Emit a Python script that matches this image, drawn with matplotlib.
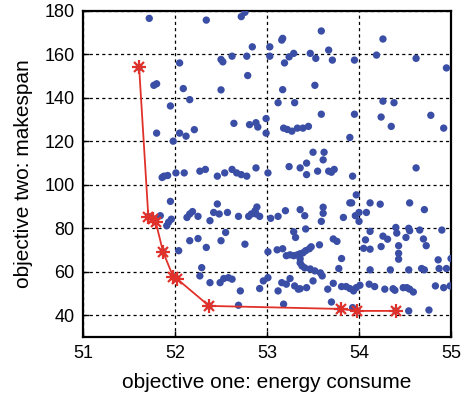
import matplotlib
matplotlib.use("Agg")
import matplotlib.pyplot as plt

plt.rcParams['font.family'] = ['Liberation Sans', 'DejaVu Sans']

# All evaluated schedules: (energy consume, makespan)
energy = [
    51.72, 51.77, 51.80, 52.09, 52.34, 52.72, 52.76, 52.84, 53.03, 53.16,
    53.17, 52.05, 52.50, 52.52, 52.62, 52.78, 53.03, 53.19, 53.24, 53.29,
    53.47, 52.79, 52.50, 53.17, 53.52, 53.59, 54.26, 53.53, 53.67, 53.71,
    53.95, 54.19, 54.62, 54.95,
    51.95, 52.16, 53.12, 53.30, 53.59, 53.95, 54.26, 54.38, 54.24, 54.78,
    54.92, 54.35, 53.90, 51.80, 52.05, 52.12, 52.21, 51.98, 52.64, 52.81,
    52.88, 52.90, 52.99, 52.99, 53.18, 53.22, 53.27, 53.33, 53.39, 53.45,
    53.50, 53.62, 53.61, 53.43, 53.24, 53.36, 53.55, 53.43, 53.67, 53.70,
    53.73, 53.93, 54.62, 52.88, 53.01, 52.78, 52.67, 52.62, 52.72, 52.54,
    52.46, 52.33, 52.27, 52.10, 52.01, 51.92, 51.88, 51.86,
    51.95, 52.46, 52.89, 53.61, 53.90, 53.92, 53.97, 54.12, 54.23, 54.55,
    54.71, 53.36, 53.41, 53.61, 53.59, 53.83, 53.96, 54.00, 54.00, 54.08,
    53.42, 54.12, 54.40, 54.41, 54.54, 54.55, 54.51, 54.66, 54.90, 53.72,
    53.76, 53.57, 54.07, 54.05, 54.12, 54.26, 54.31, 54.70, 54.73, 54.24,
    54.43, 54.43, 54.43, 53.81, 54.86, 55.00,
    53.01, 53.11, 53.17, 53.21, 53.25, 53.29, 53.33, 53.36, 53.39, 53.42,
    53.46, 53.48, 53.36, 53.36, 53.38, 53.41, 53.47, 53.52, 53.58, 53.60,
    53.78, 54.12, 54.34, 54.54, 54.68, 54.71, 54.87, 54.95,
    53.43, 53.36, 53.50, 53.66, 53.72, 53.81, 53.86, 53.90, 53.94, 53.97,
    54.01, 54.11, 54.17, 54.28, 54.37, 54.39, 54.48, 54.52, 54.55, 54.59,
    54.83, 54.92, 54.99, 53.70, 53.93, 54.54, 54.76,
    51.84, 51.96, 51.93, 51.91, 52.16, 52.19, 52.13, 52.25, 52.38, 52.42,
    52.48, 52.57, 52.69, 52.80, 52.83, 52.87, 52.88, 52.92, 53.04, 53.12,
    53.20, 53.29, 53.31, 52.55, 52.50, 52.25, 52.16, 52.34, 52.04, 52.76,
    52.29, 52.27, 52.38, 52.49, 52.53, 52.58, 52.62, 52.71, 52.92, 52.96,
    53.01, 53.12, 53.16, 53.21, 53.25, 53.30, 53.34, 52.69, 53.18,
]
makespan = [
    176.6, 145.8, 146.5, 144.3, 175.8, 177.4, 179.4, 163.5, 163.5, 166.6,
    167.4, 156.1, 157.7, 156.6, 159.2, 159.2, 159.2, 156.1, 158.9, 160.5,
    160.5, 150.3, 143.7, 143.8, 145.8, 170.8, 167.1, 158.2, 162.0, 157.4,
    157.4, 159.7, 158.2, 153.8,
    136.3, 139.2, 137.8, 137.8, 132.5, 132.5, 138.5, 137.8, 131.2, 132.0,
    126.1, 126.9, 121.8, 123.8, 123.8, 122.4, 125.4, 120.1, 128.3, 127.7,
    128.6, 126.6, 130.5, 123.8, 126.1, 125.5, 124.7, 126.1, 126.1, 126.9,
    115.0, 115.0, 111.5, 110.0, 108.4, 107.8, 106.3, 104.7, 106.3, 105.8,
    107.1, 104.0, 107.8, 107.8, 105.5, 104.0, 105.5, 107.1, 104.7, 105.5,
    104.0, 107.1, 106.3, 105.5, 105.5, 104.3, 104.0, 103.4,
    92.4, 91.2, 89.8, 89.7, 91.7, 91.7, 95.4, 91.7, 91.1, 91.7,
    88.6, 88.6, 85.8, 86.9, 83.2, 85.0, 85.8, 87.3, 83.2, 87.3,
    79.7, 78.6, 80.4, 77.8, 80.0, 78.9, 75.8, 79.2, 79.2, 75.1,
    74.0, 72.4, 74.7, 70.8, 70.4, 76.4, 75.0, 75.1, 72.0, 71.6,
    72.0, 68.5, 65.8, 66.1, 65.5, 66.1,
    69.2, 70.1, 70.6, 67.4, 67.8, 67.4, 67.8, 68.3, 68.7, 69.7,
    70.6, 71.5, 66.0, 64.1, 62.7, 61.8, 61.3, 60.4, 59.5, 58.1,
    61.5, 60.9, 60.9, 60.9, 61.5, 60.9, 61.5, 61.5,
    52.7, 52.2, 55.8, 52.0, 54.7, 53.2, 53.2, 52.3, 51.2, 52.7,
    53.8, 54.3, 53.2, 52.0, 52.2, 51.5, 52.7, 52.7, 52.0, 50.7,
    53.5, 52.7, 53.5, 46.1, 43.5, 42.0, 42.4,
    85.8, 84.2, 82.8, 81.2, 86.6, 87.7, 85.0, 85.5, 83.5, 87.3,
    86.6, 87.3, 85.5, 85.5, 86.6, 88.1, 86.6, 85.5, 84.6, 85.5,
    88.1, 78.4, 75.8, 78.1, 74.3, 75.3, 74.3, 71.2, 69.7, 72.7,
    61.9, 58.1, 55.0, 55.0, 56.9, 57.3, 56.6, 51.2, 52.3, 55.8,
    57.3, 51.2, 55.0, 54.3, 56.9, 53.5, 52.0, 44.6, 45.1,
]

# Non-dominated (Pareto) solutions
front_energy = [51.61, 51.71, 51.76, 51.79, 51.87, 51.98, 52.02, 52.37, 53.80, 53.98, 54.40]
front_makespan = [154.1, 85.4, 84.4, 83.0, 69.2, 57.7, 56.8, 44.3, 42.9, 42.0, 42.0]

x_ticks = [51, 52, 53, 54, 55]
y_ticks = [40, 60, 80, 100, 120, 140, 160, 180]

blue = '#3a4ea6'
red = '#e0322a'

fig = plt.figure(figsize=(4.65, 3.98), dpi=100)
ax = fig.add_axes([0.1785, 0.1533, 0.7915, 0.8191])

ax.scatter(energy + front_energy, makespan + front_makespan,
           s=28, color=blue, edgecolors='none', zorder=3)

ax.plot(front_energy, front_makespan, color=red, lw=1.3, zorder=4)
ax.plot(front_energy, front_makespan, linestyle='none', marker='+',
        ms=10, mew=1.6, color=red, zorder=5)
ax.plot(front_energy, front_makespan, linestyle='none', marker='x',
        ms=7.5, mew=1.6, color=red, zorder=5)

ax.set_xlim(51, 55)
ax.set_ylim(30, 180)
ax.set_xticks(x_ticks)
ax.set_yticks(y_ticks)
ax.tick_params(direction='in', length=4, width=1, labelsize=13, pad=6)

ax.grid(True, color='black', linestyle=(0, (2.5, 2.5)), linewidth=0.9)
ax.set_axisbelow(True)
for sp in ax.spines.values():
    sp.set_linewidth(1.6)
    sp.set_color('black')

ax.set_xlabel('objective one: energy consume', fontsize=15, labelpad=8)
ax.set_ylabel('objective two: makespan', fontsize=15, labelpad=8)

fig.savefig('out.png', dpi=100)
